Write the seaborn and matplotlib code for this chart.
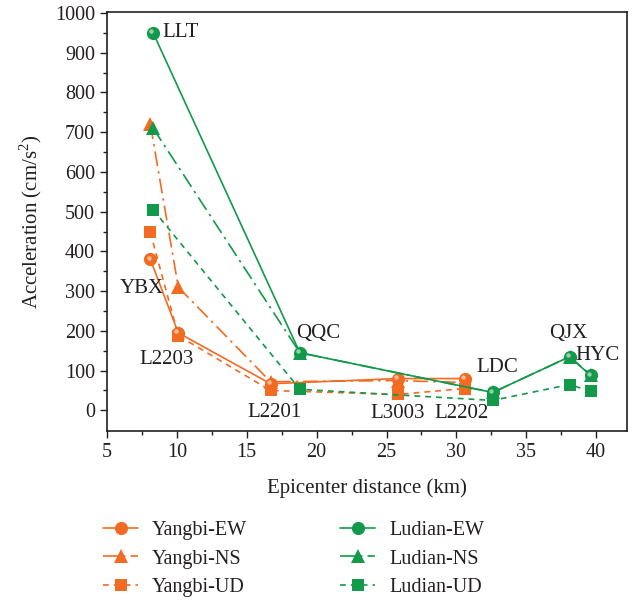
import matplotlib
matplotlib.use("Agg")
import matplotlib.pyplot as plt
import matplotlib.transforms as mtransforms
from matplotlib.lines import Line2D
import seaborn as sns
import numpy as np

# Yangbi stations
yb_dist = [8.1, 10.1, 16.7, 25.8, 30.6]
yb_ew = [380, 195, 67, 80, 80]
yb_ns = [720, 310, 72, 75, 70]
yb_ud = [448, 188, 50, 40, 55]
yb_names = ["YBX", "L2203", "L2201", "L3003", "L2202"]

# Ludian stations
ld_dist = [8.3, 18.8, 32.6, 38.1, 39.6]
ld_ew = [950, 145, 45, 135, 88]
ld_ns = [710, 145, 45, 135, 90]
ld_ud = [505, 53, 25, 65, 48]
ld_names = ["LLT", "QQC", "LDC", "QJX", "HYC"]

x_ticks = [5, 10, 15, 20, 25, 30, 35, 40]
y_ticks = [0, 100, 200, 300, 400, 500, 600, 700, 800, 900, 1000]

ORANGE = "#F26B23"
GREEN = "#12994A"
INK = "#231F20"

sns.set_theme(style="ticks")
plt.rcParams["font.family"] = ["Liberation Serif", "DejaVu Serif"]
plt.rcParams["mathtext.fontset"] = "custom"
plt.rcParams["mathtext.rm"] = "Liberation Serif"
plt.rcParams["axes.linewidth"] = 1.2

fig = plt.figure(figsize=(6.39, 6.04), dpi=100)
ax = fig.add_axes([0.1675, 0.2864, 0.8135, 0.694])

dashdot = (0, (9, 3, 1.5, 3))
dashed = (0, (3.5, 3))

series = [
    ("Yangbi-EW", yb_dist, yb_ew, ORANGE, "-", "o", 9.5),
    ("Yangbi-NS", yb_dist, yb_ns, ORANGE, dashdot, "^", 10),
    ("Yangbi-UD", yb_dist, yb_ud, ORANGE, dashed, "s", 8),
    ("Ludian-EW", ld_dist, ld_ew, GREEN, "-", "o", 9.5),
    ("Ludian-NS", ld_dist, ld_ns, GREEN, dashdot, "^", 10),
    ("Ludian-UD", ld_dist, ld_ud, GREEN, dashed, "s", 8),
]

handles = {}
for name, xs, ys, col, ls, mk, ms in series:
    sns.lineplot(x=xs, y=ys, ax=ax, color=col, linestyle=ls, marker=mk,
                 markersize=ms, markeredgewidth=0, linewidth=1.2,
                 sort=False, zorder=3)
    handles[name] = Line2D([], [], color=col, linestyle=ls, marker=mk,
                           markersize=ms, markeredgewidth=0, linewidth=1.2)

# glossy highlight on the spherical markers
shift = mtransforms.ScaledTranslation(-1.3 / 72, 1.3 / 72, fig.dpi_scale_trans)
for xs, ys in [(yb_dist, yb_ew), (ld_dist, ld_ew)]:
    ax.plot(xs, ys, linestyle="none", marker="o", markersize=3.2,
            color="white", alpha=0.55, markeredgewidth=0,
            transform=ax.transData + shift, zorder=4)

# station labels (offsets in points from each station's EW point)
label_offsets = {
    "YBX": (-22, -21), "L2203": (-28, -19), "L2201": (-17, -21),
    "L3003": (-20, -25), "L2202": (-22, -25),
    "LLT": (6.5, 0.5), "QQC": (-3, 14), "LDC": (-12, 18), "QJX": (-15, 17),
    "HYC": (-11, 14),
}
for names, xs, ys in [(yb_names, yb_dist, yb_ew), (ld_names, ld_dist, ld_ew)]:
    for n, xv, yv in zip(names, xs, ys):
        ax.annotate(n, (xv, yv), xytext=label_offsets[n], textcoords="offset points",
                    fontsize=15, color=INK, ha="left", va="center", zorder=5)

ax.set_xlim(5, 42.2)
ax.set_ylim(-52, 1003)
ax.set_xticks(x_ticks)
ax.set_yticks(y_ticks)
ax.set_xticks(np.arange(7.5, 42, 5), minor=True)
ax.set_yticks(np.arange(50, 1000, 100), minor=True)
ax.tick_params(which="major", direction="out", length=5, width=1.0,
               labelsize=14.5, colors=INK)
ax.tick_params(which="minor", direction="out", length=3, width=1.0, colors=INK)
for s in ax.spines.values():
    s.set_visible(True)
    s.set_color(INK)

ax.set_xlabel("Epicenter distance (km)", fontsize=15, color=INK, labelpad=12)
ax.set_ylabel("Acceleration (cm/s$^{2}$)", fontsize=15, color=INK, labelpad=8)

order = ["Yangbi-EW", "Yangbi-NS", "Yangbi-UD", "Ludian-EW", "Ludian-NS", "Ludian-UD"]
fig.legend([handles[k] for k in order], order, ncol=2, loc="upper left",
           bbox_to_anchor=(0.161, 0.137), frameon=False, fontsize=14.5,
           borderpad=0, borderaxespad=0,
           handlelength=1.75, columnspacing=4.6, labelspacing=0.45,
           handletextpad=0.7, labelcolor=INK)

fig.savefig("out.png", dpi=100)
